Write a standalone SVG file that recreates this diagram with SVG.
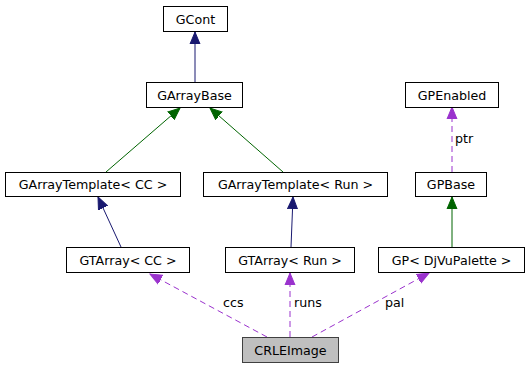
<svg xmlns="http://www.w3.org/2000/svg" width="529" height="368" viewBox="0 0 529 368">
<style>
.node rect{fill:#fff;stroke:#000;stroke-width:1}
.node.self rect{fill:#bfbfbf;stroke:#404040}
.node text{font-family:"DejaVu Sans",sans-serif;font-size:12.67px;text-anchor:middle;fill:#000}
.lbl{font-family:"DejaVu Sans",sans-serif;font-size:12.67px;fill:#000}
.e{fill:none;stroke-width:1}
.navy{stroke:#191970}
.green{stroke:#006400}
.use{stroke:#9a32cd;stroke-dasharray:6,4}
</style>
<defs>
<marker id="hNavy" markerUnits="userSpaceOnUse" markerWidth="13" markerHeight="12" viewBox="0 0 13 12" refX="12" refY="6" orient="auto"><path d="M0,1 L12,6 L0,11 Z" fill="#191970" stroke="#191970"/></marker>
<marker id="hGreen" markerUnits="userSpaceOnUse" markerWidth="13" markerHeight="12" viewBox="0 0 13 12" refX="12" refY="6" orient="auto"><path d="M0,1 L12,6 L0,11 Z" fill="#006400" stroke="#006400"/></marker>
<marker id="hUse" markerUnits="userSpaceOnUse" markerWidth="13" markerHeight="12" viewBox="0 0 13 12" refX="12" refY="6" orient="auto"><path d="M0,1 L12,6 L0,11 Z" fill="#9a32cd" stroke="#9a32cd"/></marker>
</defs>

<!-- connectors: inheritance (navy/green) and usage (dashed purple) -->
<g id="edges">
<path class="e navy" d="M195,82 L195,32" marker-end="url(#hNavy)"/>
<path class="e green" d="M106,172 L180,108" marker-end="url(#hGreen)"/>
<path class="e green" d="M283,172 L210,108" marker-end="url(#hGreen)"/>
<path class="e navy" d="M121,247 L98,197" marker-end="url(#hNavy)"/>
<path class="e navy" d="M291,247 L293,197" marker-end="url(#hNavy)"/>
<path class="e use" d="M452,172 L452,107" marker-end="url(#hUse)"/>
<text class="lbl" x="455" y="143">ptr</text>
<path class="e green" d="M452,247 L452,197" marker-end="url(#hGreen)"/>
<path class="e use" d="M267,337 L150,274" marker-end="url(#hUse)"/>
<text class="lbl" x="223" y="307">ccs</text>
<path class="e use" d="M290,337 L290,273" marker-end="url(#hUse)"/>
<text class="lbl" x="294" y="307">runs</text>
<path class="e use" d="M312,337 L429,273" marker-end="url(#hUse)"/>
<text class="lbl" x="385" y="307">pal</text>
</g>

<g id="GCont" class="node"><rect x="163.5" y="6.5" width="64" height="25"/><text x="195.5" y="23.5">GCont</text></g>
<g id="GArrayBase" class="node"><rect x="146.5" y="82.5" width="96" height="25"/><text x="194.5" y="99.5">GArrayBase</text></g>
<g id="GArrayTemplateCC" class="node"><rect x="5.5" y="172.5" width="175" height="24"/><text x="93" y="189">GArrayTemplate&lt; CC &gt;</text></g>
<g id="GArrayTemplateRun" class="node"><rect x="203.5" y="172.5" width="184" height="24"/><text x="295.5" y="189">GArrayTemplate&lt; Run &gt;</text></g>
<g id="GPEnabled" class="node"><rect x="405.5" y="82.5" width="93" height="25"/><text x="452" y="99.5">GPEnabled</text></g>
<g id="GPBase" class="node"><rect x="415.5" y="172.5" width="71" height="24"/><text x="451" y="189">GPBase</text></g>
<g id="GTArrayCC" class="node"><rect x="66.5" y="247.5" width="123" height="25"/><text x="128" y="264.5">GTArray&lt; CC &gt;</text></g>
<g id="GTArrayRun" class="node"><rect x="225.5" y="247.5" width="129" height="25"/><text x="290" y="264.5">GTArray&lt; Run &gt;</text></g>
<g id="GPDjVuPalette" class="node"><rect x="378.5" y="247.5" width="146" height="25"/><text x="451.5" y="264.5">GP&lt; DjVuPalette &gt;</text></g>
<g id="CRLEImage" class="node self"><rect x="242.5" y="337.5" width="96" height="25"/><text x="290.5" y="354.5">CRLEImage</text></g>
</svg>
